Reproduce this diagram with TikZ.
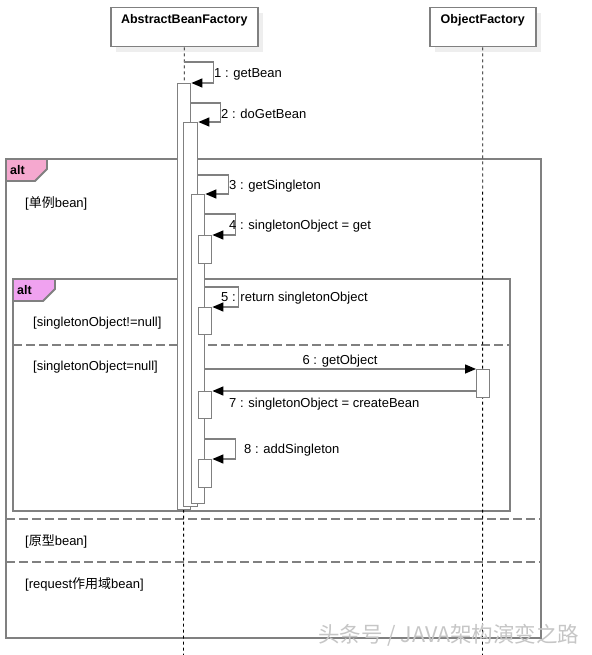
\documentclass[tikz,border=0pt]{standalone}
\usepackage{fontspec}
\setmainfont{Liberation Sans}
\newfontfamily\cjk{Noto Sans CJK SC}
\usetikzlibrary{arrows.meta}
\definecolor{linegray}{HTML}{808080}
\definecolor{altpink}{HTML}{F5A8CF}
\definecolor{altviolet}{HTML}{F0A2F0}
\definecolor{shadowgray}{HTML}{EEEEEE}
\begin{document}
\begin{tikzpicture}[x=1pt,y=-1pt,
  font=\fontsize{13}{15}\selectfont,
  head/.style={draw=linegray, line width=1.5pt, fill=white, anchor=north west,
    minimum height=39pt, inner sep=3pt, text height=9pt, text depth=16pt,
    font=\bfseries\fontsize{12.5}{14}\selectfont},
  shade/.style={fill=shadowgray},
  frame/.style={draw=linegray, line width=1.8pt},
  sep/.style={draw=linegray, line width=1.8pt, dash pattern=on 9pt off 4pt},
  tabtext/.style={anchor=west, inner sep=0pt, font=\bfseries\fontsize{12.5}{14}\selectfont},
  guard/.style={anchor=west, inner sep=0pt, yshift=-1pt},
  life/.style={draw=black, line width=0.9pt, dash pattern=on 3pt off 3pt},
  act/.style={draw=linegray, line width=1.4pt, fill=white, anchor=north west,
    minimum width=13pt, inner sep=0pt},
  msg/.style={draw=linegray, line width=1.5pt,
    -{Triangle[length=11pt,width=9pt,black]}},
  lbl/.style={anchor=west, inner sep=0pt, yshift=-1pt}
]
\useasboundingbox (0,0) rectangle (591,655);
\fill[white] (0,0) rectangle (591,655);

% lifeline heads
\fill[shade] (116,13) rectangle (263,52);
\fill[shade] (435,13) rectangle (541,52);
\node[head, minimum width=147pt] (abf) at (110,7) {AbstractBeanFactory};
\node[head, minimum width=106pt] (of) at (429,7) {ObjectFactory};

% outer alt frame
\draw[frame] (6,159) rectangle (541,638);
\draw[frame, fill=altpink] (6,159) -- (47,159) -- (47,169) -- (35,181) -- (6,181) -- cycle;
\node[tabtext] (alt1) at (10,170) {alt};
\node[guard] (g1) at (25,202) {[{\cjk 单例}bean]};
\draw[sep] (6,519) -- (541,519);
\node[guard] (g2) at (25,540) {[{\cjk 原型}bean]};
\draw[sep] (6,562) -- (541,562);
\node[guard] (g3) at (25,583) {[request{\cjk 作用域}bean]};

% inner alt frame
\draw[frame] (13,279) rectangle (510,511);
\draw[frame, fill=altviolet] (13,279) -- (55,279) -- (55,289) -- (43,301) -- (13,301) -- cycle;
\node[tabtext] (alt2) at (17,290) {alt};
\node[guard] (g4) at (33,322) {[singletonObject!=null]};
\draw[sep] (13,345) -- (510,345);
\node[guard] (g5) at (33,366) {[singletonObject=null]};

% lifelines
\coordinate (abfend) at (183.5,655);
\coordinate (ofend) at (482.5,655);
\draw[life] (abf.south) -- (abfend);
\draw[life] (of.south) -- (ofend);

% activations
\node[act, minimum height=426pt] (a1) at (177,83) {};
\node[act, minimum width=14pt, minimum height=384pt] (a2) at (183,122) {};
\node[act, minimum height=309pt] (a3) at (191,194) {};
\node[act, minimum height=28pt] (a4) at (198,235) {};
\node[act, minimum height=27pt] (a5) at (198,307) {};
\node[act, minimum height=27pt] (a7) at (198,391) {};
\node[act, minimum height=28pt] (a8) at (198,459) {};
\node[act, minimum height=28pt] (ofa) at (476,369) {};

% messages
\coordinate (m1s) at (183.5,62);
\draw[msg] (m1s) -- ++(30,0) |- (a1.north east);
\path (a1.north east) ++(0,20) coordinate (m2s);
\draw[msg] (m2s) -- ++(29,0) |- (a2.north east);
\path (a2.north east) ++(0,53) coordinate (m3s);
\draw[msg] (m3s) -- ++(30,0) |- (a3.north east);
\path (a3.north east) ++(0,20) coordinate (m4s);
\draw[msg] (m4s) -- ++(30,0) |- (a4.north east);
\path (a3.north east) ++(0,93) coordinate (m5s);
\draw[msg] (m5s) -- ++(33,0) |- (a5.north east);
\path (a3.north east) ++(0,175) coordinate (m6s);
\draw[msg] (m6s) -- (ofa.north west);
\path (ofa.north west) ++(0,22) coordinate (m7s);
\draw[msg] (m7s) -- (a7.north east);
\path (a3.north east) ++(0,245) coordinate (m8s);
\draw[msg] (m8s) -- ++(30,0) |- (a8.north east);

% labels
\node[lbl] (l1) at (214,73) {1 : getBean};
\node[lbl] (l2) at (221,113) {2 : doGetBean};
\node[lbl] (l3) at (229,185) {3 : getSingleton};
\node[lbl] (l4) at (229,225) {4 : singletonObject = get};
\node[lbl] (l5) at (221,297) {5 : return singletonObject};
\node[inner sep=0pt, yshift=-1pt] (l6) at (340,360) {6 : getObject};
\node[lbl] (l7) at (229,403) {7 : singletonObject = createBean};
\node[lbl] (l8) at (244,449) {8 : addSingleton};

% watermark
\node[anchor=west, inner sep=0pt, text=gray!45, font=\cjk\fontsize{21.5}{23}\selectfont] (wm) at (318,635) {头条号 / JAVA架构演变之路};
\end{tikzpicture}
\end{document}
